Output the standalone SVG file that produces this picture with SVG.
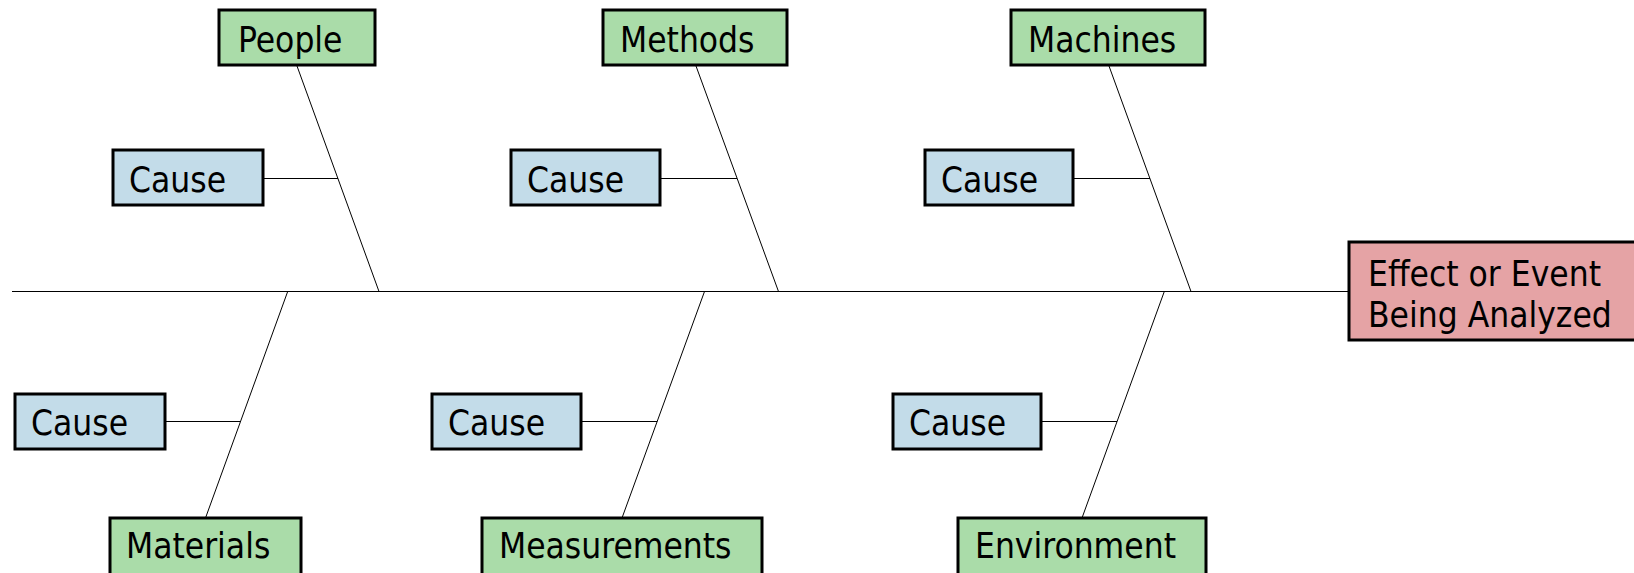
<svg xmlns="http://www.w3.org/2000/svg" width="1634" height="573" viewBox="0 0 1634 573">
<style>
.box{stroke:#000;stroke-width:3}
.cat{fill:#AADCA9}
.cause{fill:#C3DCE9}
.effect{fill:#E5A3A5}
text{font-family:"DejaVu Sans Condensed","DejaVu Sans","Liberation Sans",sans-serif;font-size:35px;fill:#000}
.ln{stroke:#000;stroke-width:1;fill:none}
</style>
<rect width="1634" height="573" fill="#fff"/>
<g id="connectors">
<line class="ln" x1="12" y1="291.5" x2="1349" y2="291.5"/>
<line class="ln" x1="297" y1="66" x2="379" y2="291.5"/>
<line class="ln" x1="696" y1="66" x2="778.5" y2="291.5"/>
<line class="ln" x1="1109" y1="66" x2="1191" y2="291.5"/>
<line class="ln" x1="287.7" y1="291.5" x2="205.5" y2="518"/>
<line class="ln" x1="704.5" y1="291.5" x2="622" y2="518"/>
<line class="ln" x1="1164.3" y1="291.5" x2="1082" y2="518"/>
<line class="ln" x1="264" y1="178.5" x2="338" y2="178.5"/>
<line class="ln" x1="661" y1="178.5" x2="737" y2="178.5"/>
<line class="ln" x1="1074" y1="178.5" x2="1150" y2="178.5"/>
<line class="ln" x1="166" y1="421.5" x2="240.6" y2="421.5"/>
<line class="ln" x1="582" y1="421.5" x2="657.2" y2="421.5"/>
<line class="ln" x1="1042" y1="421.5" x2="1117" y2="421.5"/>
</g>
<g id="people"><rect class="box cat" x="219" y="10" width="156" height="55"/><text x="238" y="52">People</text></g>
<g id="methods"><rect class="box cat" x="603" y="10" width="184" height="55"/><text x="620" y="52">Methods</text></g>
<g id="machines"><rect class="box cat" x="1011" y="10" width="194" height="55"/><text x="1028" y="52">Machines</text></g>
<g id="cause1"><rect class="box cause" x="113" y="150" width="150" height="55"/><text x="129" y="192">Cause</text></g>
<g id="cause2"><rect class="box cause" x="511" y="150" width="149" height="55"/><text x="527" y="192">Cause</text></g>
<g id="cause3"><rect class="box cause" x="925" y="150" width="148" height="55"/><text x="941" y="192">Cause</text></g>
<g id="cause4"><rect class="box cause" x="15" y="394" width="150" height="55"/><text x="31" y="435">Cause</text></g>
<g id="cause5"><rect class="box cause" x="432" y="394" width="149" height="55"/><text x="448" y="435">Cause</text></g>
<g id="cause6"><rect class="box cause" x="893" y="394" width="148" height="55"/><text x="909" y="435">Cause</text></g>
<g id="materials"><rect class="box cat" x="110" y="518" width="191" height="58"/><text x="126" y="558">Materials</text></g>
<g id="measurements"><rect class="box cat" x="482" y="518" width="280" height="58"/><text x="499" y="558">Measurements</text></g>
<g id="environment"><rect class="box cat" x="958" y="518" width="248" height="58"/><text x="975" y="558">Environment</text></g>
<g id="effect"><rect class="box effect" x="1349" y="242" width="300" height="98"/><text x="1368" y="286">Effect or Event</text><text x="1368" y="327">Being Analyzed</text></g>
</svg>
